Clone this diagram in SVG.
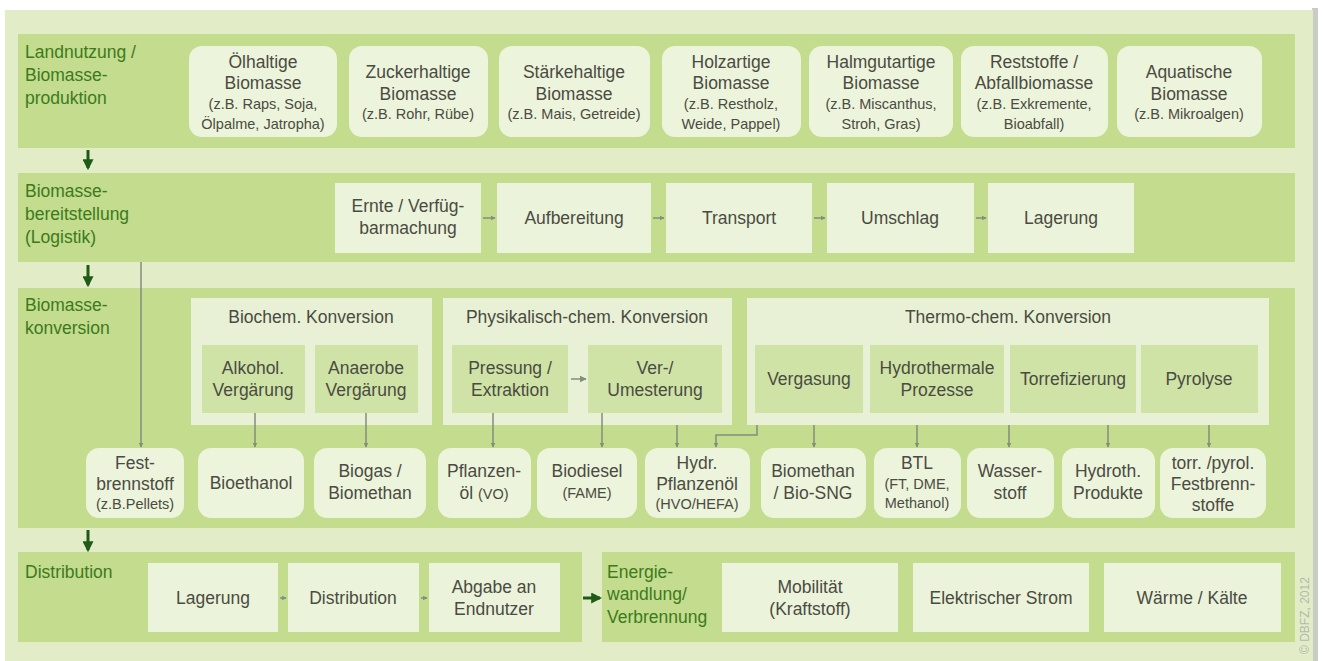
<svg xmlns="http://www.w3.org/2000/svg" width="1323" height="661" viewBox="0 0 1323 661">
<style>
.panel{fill:#e2edc8}
.band{fill:#c3dc8d}
.rbox{fill:#edf4dc}
.sbox{fill:#ebf3da}
.grp{fill:#e8f1d5}
.ibox{fill:#cfe3a6}
text{font-family:"Liberation Sans",Arial,sans-serif;fill:#4a4b42}
.t{font-size:17.5px;text-anchor:middle}
.s{font-size:14.5px;text-anchor:middle}
.lab{font-size:17.5px;fill:#3d7a1c}
.conn{stroke:#858d7c;stroke-width:1.5;fill:none}
.big{stroke:#1f5a17;stroke-width:3;fill:none}
</style>
<defs>
<marker id="ga" viewBox="0 0 10 10" refX="9" refY="5" markerWidth="5" markerHeight="5" orient="auto" markerUnits="userSpaceOnUse"><path d="M0,0 L10,5 L0,10 z" fill="#858d7c"/></marker>
<marker id="ga2" viewBox="0 0 10 10" refX="9" refY="5" markerWidth="7" markerHeight="7" orient="auto" markerUnits="userSpaceOnUse"><path d="M0,0 L10,5 L0,10 z" fill="#858d7c"/></marker>
<marker id="da" viewBox="0 0 10 10" refX="8" refY="5" markerWidth="11" markerHeight="11" orient="auto" markerUnits="userSpaceOnUse"><path d="M0,0 L10,5 L0,10 z" fill="#1f5a17"/></marker>
</defs>
<rect x="0" y="0" width="1323" height="661" fill="#ffffff"/>
<rect x="1312" y="8" width="6" height="653" fill="#c9ccc4"/>
<rect class="panel" x="5" y="10" width="1308" height="651"/>

<!-- Bands -->
<g id="row1">
<rect class="band" x="18" y="34" width="1277" height="114"/>
<text class="lab" x="25" y="58">Landnutzung /</text>
<text class="lab" x="25" y="81">Biomasse-</text>
<text class="lab" x="25" y="104">produktion</text>
</g>
<g id="row2">
<rect class="band" x="18" y="173" width="1277" height="89"/>
<text class="lab" x="25" y="197">Biomasse-</text>
<text class="lab" x="25" y="220">bereitstellung</text>
<text class="lab" x="25" y="243">(Logistik)</text>
</g>
<g id="row3">
<rect class="band" x="18" y="288" width="1277" height="240"/>
<text class="lab" x="25" y="311">Biomasse-</text>
<text class="lab" x="25" y="334">konversion</text>
</g>
<g id="row4a">
<rect class="band" x="18" y="552" width="564" height="90"/>
<text class="lab" x="25" y="578">Distribution</text>
</g>
<g id="row4b">
<rect class="band" x="602" y="552" width="693" height="90"/>
<text class="lab" x="607" y="578">Energie-</text>
<text class="lab" x="607" y="600">wandlung/</text>
<text class="lab" x="607" y="623">Verbrennung</text>
</g>

<!-- Row 1 nodes -->
<g id="oel"><rect class="rbox" x="189" y="46" width="148" height="91" rx="13"/>
<text class="t" x="263" y="68">Ölhaltige</text><text class="t" x="263" y="89">Biomasse</text>
<text class="s" x="263" y="109">(z.B. Raps, Soja,</text><text class="s" x="263" y="129">Ölpalme, Jatropha)</text></g>
<g id="zucker"><rect class="rbox" x="349" y="46" width="139" height="91" rx="13"/>
<text class="t" x="418" y="78">Zuckerhaltige</text><text class="t" x="418" y="100">Biomasse</text>
<text class="s" x="418" y="119">(z.B. Rohr, Rübe)</text></g>
<g id="staerke"><rect class="rbox" x="499" y="46" width="151" height="91" rx="13"/>
<text class="t" x="574" y="78">Stärkehaltige</text><text class="t" x="574" y="100">Biomasse</text>
<text class="s" x="574" y="119">(z.B. Mais, Getreide)</text></g>
<g id="holz"><rect class="rbox" x="662" y="46" width="139" height="91" rx="13"/>
<text class="t" x="731" y="68">Holzartige</text><text class="t" x="731" y="89">Biomasse</text>
<text class="s" x="731" y="109">(z.B. Restholz,</text><text class="s" x="731" y="129">Weide, Pappel)</text></g>
<g id="halm"><rect class="rbox" x="809" y="46" width="144" height="91" rx="13"/>
<text class="t" x="881" y="68">Halmgutartige</text><text class="t" x="881" y="89">Biomasse</text>
<text class="s" x="881" y="109">(z.B. Miscanthus,</text><text class="s" x="881" y="129">Stroh, Gras)</text></g>
<g id="rest"><rect class="rbox" x="961" y="46" width="147" height="91" rx="13"/>
<text class="t" x="1034" y="68">Reststoffe /</text><text class="t" x="1034" y="89">Abfallbiomasse</text>
<text class="s" x="1034" y="109">(z.B. Exkremente,</text><text class="s" x="1034" y="129">Bioabfall)</text></g>
<g id="aqua"><rect class="rbox" x="1117" y="46" width="145" height="91" rx="13"/>
<text class="t" x="1189" y="78">Aquatische</text><text class="t" x="1189" y="100">Biomasse</text>
<text class="s" x="1189" y="119">(z.B. Mikroalgen)</text></g>

<!-- Row 2 nodes -->
<g id="ernte"><rect class="sbox" x="335" y="183" width="146" height="70"/>
<text class="t" x="408" y="212">Ernte / Verfüg-</text><text class="t" x="408" y="234">barmachung</text></g>
<g id="aufb"><rect class="sbox" x="497" y="183" width="154" height="70"/>
<text class="t" x="574" y="224">Aufbereitung</text></g>
<g id="transport"><rect class="sbox" x="666" y="183" width="146" height="70"/>
<text class="t" x="739" y="224">Transport</text></g>
<g id="umschlag"><rect class="sbox" x="827" y="183" width="147" height="70"/>
<text class="t" x="900" y="224">Umschlag</text></g>
<g id="lager1"><rect class="sbox" x="988" y="183" width="146" height="70"/>
<text class="t" x="1061" y="224">Lagerung</text></g>

<!-- Row 3 groups -->
<g id="biochem"><rect class="grp" x="191" y="298" width="241" height="127"/>
<text class="t" x="311" y="323">Biochem. Konversion</text>
<g id="alkohol"><rect class="ibox" x="202" y="345" width="103" height="68"/>
<text class="t" x="253" y="374">Alkohol.</text><text class="t" x="253" y="396">Vergärung</text></g>
<g id="anaerob"><rect class="ibox" x="315" y="345" width="103" height="68"/>
<text class="t" x="366" y="374">Anaerobe</text><text class="t" x="366" y="396">Vergärung</text></g>
</g>
<g id="physchem"><rect class="grp" x="443" y="298" width="289" height="127"/>
<text class="t" x="587" y="323">Physikalisch-chem. Konversion</text>
<g id="pressung"><rect class="ibox" x="452" y="345" width="116" height="68"/>
<text class="t" x="510" y="374">Pressung /</text><text class="t" x="510" y="396">Extraktion</text></g>
<g id="umest"><rect class="ibox" x="588" y="345" width="134" height="68"/>
<text class="t" x="655" y="374">Ver-/</text><text class="t" x="655" y="396">Umesterung</text></g>
</g>
<g id="thermo"><rect class="grp" x="747" y="298" width="522" height="127"/>
<text class="t" x="1008" y="323">Thermo-chem. Konversion</text>
<g id="vergasung"><rect class="ibox" x="755" y="345" width="108" height="68"/>
<text class="t" x="809" y="385">Vergasung</text></g>
<g id="hydrotherm"><rect class="ibox" x="870" y="345" width="134" height="68"/>
<text class="t" x="937" y="374">Hydrothermale</text><text class="t" x="937" y="396">Prozesse</text></g>
<g id="torref"><rect class="ibox" x="1010" y="345" width="126" height="68"/>
<text class="t" x="1073" y="385">Torrefizierung</text></g>
<g id="pyrolyse"><rect class="ibox" x="1141" y="345" width="117" height="68"/>
<text class="t" x="1199" y="385">Pyrolyse</text></g>
</g>

<!-- Products -->
<g id="fest"><rect class="rbox" x="86" y="448" width="98" height="70" rx="13"/>
<text class="t" x="135" y="469">Fest-</text><text class="t" x="135" y="490">brennstoff</text>
<text class="s" x="135" y="509">(z.B.Pellets)</text></g>
<g id="bioethanol"><rect class="rbox" x="198" y="448" width="106" height="70" rx="13"/>
<text class="t" x="251" y="489">Bioethanol</text></g>
<g id="biogas"><rect class="rbox" x="314" y="448" width="112" height="70" rx="13"/>
<text class="t" x="370" y="477">Biogas /</text><text class="t" x="370" y="499">Biomethan</text></g>
<g id="pflanzenoel"><rect class="rbox" x="438" y="448" width="93" height="70" rx="13"/>
<text class="t" x="484" y="477">Pflanzen-</text><text class="t" x="484" y="499">öl <tspan font-size="14.5px">(VO)</tspan></text></g>
<g id="biodiesel"><rect class="rbox" x="537" y="448" width="100" height="70" rx="13"/>
<text class="t" x="587" y="477">Biodiesel</text><text class="s" x="587" y="498">(FAME)</text></g>
<g id="hvo"><rect class="rbox" x="645" y="448" width="105" height="70" rx="13"/>
<text class="t" x="697" y="469">Hydr.</text><text class="t" x="697" y="490">Pflanzenöl</text>
<text class="s" x="697" y="509">(HVO/HEFA)</text></g>
<g id="biomethan"><rect class="rbox" x="761" y="448" width="105" height="70" rx="13"/>
<text class="t" x="813" y="477">Biomethan</text><text class="t" x="813" y="499">/ Bio-SNG</text></g>
<g id="btl"><rect class="rbox" x="874" y="448" width="87" height="70" rx="13"/>
<text class="t" x="917" y="469">BTL</text><text class="s" x="917" y="489">(FT, DME,</text>
<text class="s" x="917" y="508">Methanol)</text></g>
<g id="wasserstoff"><rect class="rbox" x="967" y="448" width="87" height="70" rx="13"/>
<text class="t" x="1010" y="477">Wasser-</text><text class="t" x="1010" y="499">stoff</text></g>
<g id="hydroth"><rect class="rbox" x="1062" y="448" width="93" height="70" rx="13"/>
<text class="t" x="1108" y="477">Hydroth.</text><text class="t" x="1108" y="499">Produkte</text></g>
<g id="torr"><rect class="rbox" x="1160" y="448" width="106" height="70" rx="13"/>
<text class="t" x="1213" y="469">torr. /pyrol.</text><text class="t" x="1213" y="490">Festbrenn-</text>
<text class="t" x="1213" y="511">stoffe</text></g>

<!-- Row 4 nodes -->
<g id="lager2"><rect class="sbox" x="148" y="563" width="130" height="69"/>
<text class="t" x="213" y="604">Lagerung</text></g>
<g id="distr"><rect class="sbox" x="288" y="563" width="131" height="69"/>
<text class="t" x="353" y="604">Distribution</text></g>
<g id="abgabe"><rect class="sbox" x="429" y="563" width="131" height="69"/>
<text class="t" x="494" y="593">Abgabe an</text><text class="t" x="494" y="615">Endnutzer</text></g>
<g id="mobil"><rect class="sbox" x="722" y="563" width="176" height="69"/>
<text class="t" x="810" y="593">Mobilität</text><text class="t" x="810" y="615">(Kraftstoff)</text></g>
<g id="strom"><rect class="sbox" x="913" y="563" width="176" height="69"/>
<text class="t" x="1001" y="604">Elektrischer Strom</text></g>
<g id="waerme"><rect class="sbox" x="1104" y="563" width="177" height="69"/>
<text class="t" x="1192" y="604">Wärme / Kälte</text></g>

<text x="1309" y="654" transform="rotate(-90 1309 654)" font-size="12" fill="#b4b8ad" style="fill:#b4b8ad">© DBFZ, 2012</text>

<!-- Connectors -->
<g id="connectors">
<line class="big" x1="88" y1="150" x2="88" y2="168" marker-end="url(#da)"/>
<line class="big" x1="88" y1="265" x2="88" y2="285" marker-end="url(#da)"/>
<line class="big" x1="88" y1="530" x2="88" y2="550" marker-end="url(#da)"/>
<line class="big" x1="583" y1="598" x2="600" y2="598" marker-end="url(#da)"/>
<line class="conn" x1="483" y1="218" x2="495" y2="218" marker-end="url(#ga)"/>
<line class="conn" x1="653" y1="218" x2="664" y2="218" marker-end="url(#ga)"/>
<line class="conn" x1="814" y1="218" x2="825" y2="218" marker-end="url(#ga)"/>
<line class="conn" x1="976" y1="218" x2="986" y2="218" marker-end="url(#ga)"/>
<line class="conn" x1="280" y1="598" x2="286" y2="598" marker-end="url(#ga)"/>
<line class="conn" x1="421" y1="598" x2="427" y2="598" marker-end="url(#ga)"/>
<line class="conn" x1="571" y1="379" x2="586" y2="379" marker-end="url(#ga2)"/>
<line class="conn" x1="141" y1="262" x2="141" y2="447" marker-end="url(#ga)"/>
<line class="conn" x1="255" y1="413" x2="255" y2="447" marker-end="url(#ga)"/>
<line class="conn" x1="366" y1="413" x2="366" y2="447" marker-end="url(#ga)"/>
<line class="conn" x1="493" y1="413" x2="493" y2="447" marker-end="url(#ga)"/>
<line class="conn" x1="602" y1="413" x2="602" y2="447" marker-end="url(#ga)"/>
<line class="conn" x1="677" y1="425" x2="677" y2="447" marker-end="url(#ga)"/>
<polyline class="conn" points="757,425 757,435 716,435 716,447" marker-end="url(#ga)"/>
<line class="conn" x1="814" y1="425" x2="814" y2="447" marker-end="url(#ga)"/>
<line class="conn" x1="917" y1="425" x2="917" y2="447" marker-end="url(#ga)"/>
<line class="conn" x1="1009" y1="425" x2="1009" y2="447" marker-end="url(#ga)"/>
<line class="conn" x1="1108" y1="425" x2="1108" y2="447" marker-end="url(#ga)"/>
<line class="conn" x1="1209" y1="425" x2="1209" y2="447" marker-end="url(#ga)"/>
</g>
</svg>
